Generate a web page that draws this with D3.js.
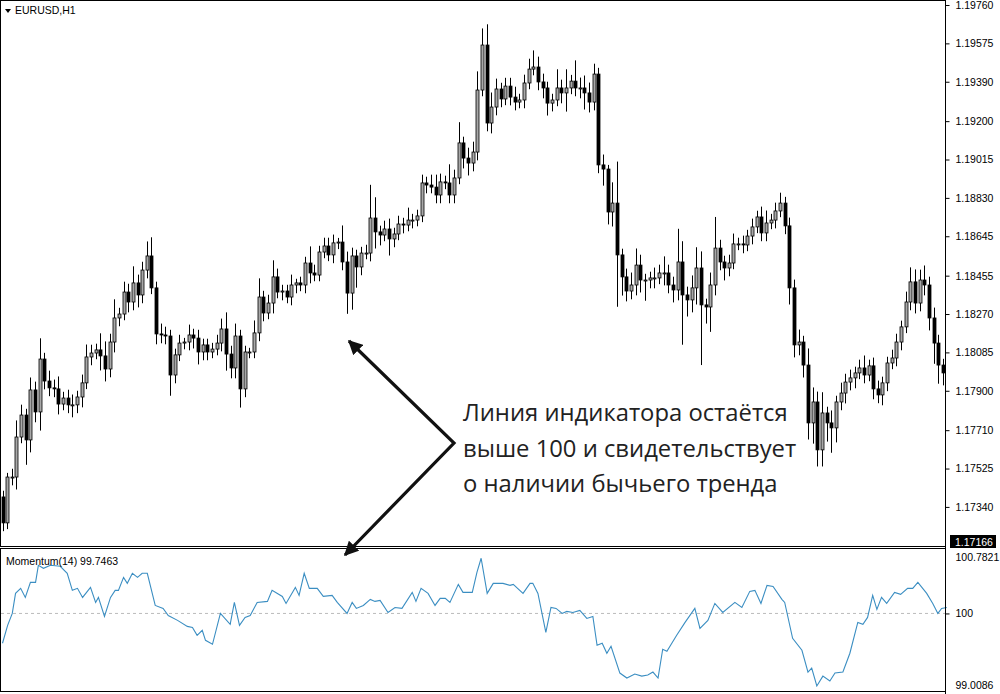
<!DOCTYPE html>
<html><head><meta charset="utf-8">
<script src="https://cdn.jsdelivr.net/npm/d3@7/dist/d3.min.js"></script>
<style>html,body{margin:0;padding:0;background:#fff;}svg{display:block;}</style>
</head><body>
<svg id="c" width="1000" height="694"></svg>
<script>
const firstOpen = 1.17388;
const closes = [
1.17263,1.17484,1.17484,1.17677,1.17783,1.17663,1.17904,1.17798,1.18053,1.17947,
1.17914,1.17909,1.17836,1.17865,1.17832,1.17832,1.17870,1.17938,1.18063,1.18082,
1.18097,1.18068,1.18005,1.18135,1.18251,1.18270,1.18376,1.18328,1.18420,1.18362,
1.18482,1.18550,1.18396,1.18174,1.18169,1.18164,1.17976,1.18073,1.18130,1.18135,
1.18169,1.18154,1.18087,1.18121,1.18087,1.18101,1.18130,1.18198,1.18077,1.18010,
1.18164,1.17909,1.18087,1.18087,1.18179,1.18352,1.18275,1.18323,1.18449,1.18376,
1.18381,1.18352,1.18410,1.18420,1.18410,1.18516,1.18468,1.18458,1.18569,1.18598,
1.18555,1.18613,1.18617,1.18521,1.18371,1.18550,1.18497,1.18564,1.18564,1.18733,
1.18666,1.18651,1.18680,1.18632,1.18656,1.18704,1.18699,1.18723,1.18723,1.18743,
1.18902,1.18892,1.18882,1.18844,1.18907,1.18902,1.18844,1.18926,1.19095,1.19022,
1.18998,1.19051,1.19350,1.19567,1.19191,1.19268,1.19355,1.19307,1.19369,1.19316,
1.19292,1.19302,1.19384,1.19451,1.19461,1.19389,1.19360,1.19287,1.19302,1.19360,
1.19336,1.19360,1.19393,1.19360,1.19360,1.19336,1.19292,1.19427,1.18989,1.18969,
1.18762,1.18805,1.18555,1.18449,1.18381,1.18410,1.18506,1.18434,1.18434,1.18444,
1.18444,1.18468,1.18468,1.18410,1.18386,1.18521,1.18362,1.18338,1.18396,1.18492,
1.18314,1.18304,1.18410,1.18588,1.18521,1.18492,1.18516,1.18608,1.18608,1.18603,
1.18646,1.18690,1.18738,1.18661,1.18709,1.18723,1.18767,1.18805,1.18695,1.18396,
1.18121,1.18135,1.18024,1.17745,1.17846,1.17615,1.17793,1.17745,1.17721,1.17846,
1.17889,1.17942,1.17962,1.17986,1.18010,1.17976,1.18020,1.17909,1.17880,1.17938,
1.18034,1.18058,1.18135,1.18208,1.18328,1.18425,1.18323,1.18434,1.18410,1.18251,
1.18130,1.18024,1.17986];
// wick lengths beyond the body, in pips
const wickUp = [
3,2,4,8,5,3,6,4,10,3, 5,4,6,3,4,5,3,4,6,4, 3,8,7,4,9,3,5,4,8,4, 4,7,9,3,5,4,3,3,4,2,
5,3,4,3,3,3,4,5,8,4, 6,3,3,2,6,9,3,4,8,4, 3,3,5,2,3,3,8,4,3,4, 4,4,2,8,5,4,3,3,4,16,
10,3,4,5,3,4,3,6,3,3, 4,3,5,6,4,3,9,4,10,3, 5,5,9,8,10,7,5,3,4,4, 5,3,4,5,8,5,4,3,3,9,
4,9,3,10,5,6,5,5,3,5, 2,10,20,3,4,6,8,5,3,3, 5,4,8,4,4,16,10,4,6,10, 8,3,6,15,4,3,4,5,3,4,
3,4,3,5,6,3,4,5,3,4, 4,6,3,8,7,5,10,3,6,3, 5,4,4,3,4,6,3,4,4,3, 3,4,4,3,5,7,6,5,7,4, 5,4,3];
const wickDn = [
4,3,4,6,3,12,6,5,9,4, 4,4,5,3,4,6,4,5,3,4, 3,7,6,4,5,4,3,5,4,6, 4,4,3,5,4,4,10,4,3,3,
4,5,6,4,4,3,3,4,8,5, 5,9,4,3,3,4,4,3,5,3, 4,3,4,4,3,4,5,3,3,3, 3,4,3,4,10,8,10,4,3,4,
8,5,3,8,4,3,4,3,4,3, 3,4,3,4,4,3,4,4,3,5, 6,4,4,3,4,5,4,4,3,4, 4,3,4,3,3,4,5,6,4,3,
5,9,3,4,5,8,5,4,4,8, 6,7,25,9,5,4,5,6,10,4, 5,3,6,4,6,5,24,8,6,8, 29,8,12,5,4,6,4,3,3,4,
3,4,3,4,4,3,4,3,4,8, 6,5,6,8,10,8,8,9,12,7, 4,5,4,5,3,4,3,5,4,5, 4,3,4,4,3,4,5,4,5,6, 10,9,6];
const priceTicks = [1.19760,1.19575,1.19390,1.19200,1.19015,1.18830,1.18645,1.18455,1.18270,1.18085,1.17900,1.17710,1.17525,1.17340];
const priceMin = 1.17166, priceMax = 1.19760;
// Momentum(14): bar position and value
const momBar = [0,1.1,2.1,2.8,3.9,4.9,6.0,7.1,7.7,8.8,10.3,12.4,13.9,15.0,16.1,17.2,18.9,20.0,20.6,21.9,23.2,24.2,24.9,26.0,26.8,27.9,29.0,30.0,31.1,32.8,34.5,35.6,37.6,39.7,40.8,41.8,42.9,43.6,45.1,46.8,48.9,49.8,50.9,52.1,53.2,54.7,56.9,57.9,60.1,60.9,62.9,63.7,64.8,65.9,67.6,68.9,70.8,71.9,74.0,75.1,76.0,77.5,79.0,80.0,81.1,82.8,84.3,85.8,88.0,88.8,89.9,91.4,92.9,94.0,95.1,96.1,97.9,98.9,100.9,101.9,102.8,104.1,105.4,107.5,109.0,109.7,111.8,113.3,113.9,115.0,116.7,117.8,118.9,120.2,121.2,122.5,124.0,125.5,126.8,127.7,128.8,129.8,130.7,132.6,134.1,135.8,137.3,138.6,139.7,140.8,141.8,142.7,144.8,146.6,148.7,149.8,151.5,153.0,154.7,157.3,158.8,160.5,161.6,162.9,164.2,165.5,167.4,168.0,169.7,171.7,173.0,173.8,174.9,176.2,177.7,178.8,180.5,182.0,183.7,184.8,185.8,186.9,187.8,188.8,189.9,191.6,192.9,194.4,195.5,196.6,198.5,199.8,200.9,201.7,202.8];
const momVal = [99.587,99.835,100.000,100.278,100.348,100.222,100.431,100.431,100.667,100.626,100.667,100.653,100.556,100.320,100.348,100.222,100.361,100.153,100.222,99.959,100.222,100.320,100.320,100.500,100.417,100.556,100.500,100.556,100.556,100.111,100.070,99.972,99.904,99.821,99.807,99.697,99.766,99.628,99.573,100.000,99.849,100.153,99.835,99.945,99.972,100.153,100.167,100.320,100.236,100.139,100.361,100.250,100.556,100.348,100.348,100.236,100.250,100.153,100.000,100.153,100.070,100.111,100.195,100.167,100.181,100.014,100.083,100.070,100.292,100.167,100.348,100.278,100.111,100.209,100.209,100.153,100.403,100.292,100.292,100.570,100.765,100.278,100.417,100.417,100.389,100.403,100.278,100.417,100.417,100.278,99.738,100.083,100.070,100.000,100.028,100.014,100.042,99.931,99.959,99.559,99.587,99.449,99.546,99.174,99.105,99.160,99.132,99.146,99.188,99.105,99.504,99.477,99.697,99.876,100.070,99.793,99.904,100.139,100.014,100.153,100.083,100.306,100.320,100.139,100.389,100.375,100.195,100.153,99.656,99.490,99.188,99.243,98.995,99.132,99.064,99.174,99.188,99.449,99.876,99.849,99.945,100.250,100.056,100.222,100.139,100.292,100.264,100.348,100.348,100.431,100.278,100.139,100.000,100.070,100.083];
const momTicks = [100.7821, 100, 99.0086];
const momMin = 99.0086, momMax = 100.7821;
const symbolLabel = "EURUSD,H1";
const momLabel = "Momentum(14) 99.7463";
const noteLines = ["Линия индикатора остаётся","выше 100 и свидетельствует","о наличии бычьего тренда"];

const svg = d3.select("#c");
const pip = 0.0001;
const x = d3.scaleLinear().domain([0, closes.length-1]).range([2.5, 943]);
const y = d3.scaleLinear().domain([priceMin, priceMax]).range([543, 5]);
const ym = d3.scaleLinear().domain([momMin, momMax]).range([685, 557]);
const font = "'Liberation Sans', Arial, sans-serif";

const bars = closes.map((c,i)=>{
  const o = i===0 ? firstOpen : closes[i-1];
  return {i, o, c, h: Math.max(o,c)+wickUp[i]*pip, l: Math.min(o,c)-wickDn[i]*pip};
});

const g = svg.append("g");
g.selectAll("line.w").data(bars).join("line")
  .attr("x1",d=>Math.round(x(d.i))+0.5).attr("x2",d=>Math.round(x(d.i))+0.5)
  .attr("y1",d=>y(d.h)).attr("y2",d=>y(d.l)).attr("stroke","#000").attr("stroke-width",1);
g.selectAll("rect.b").data(bars).join("rect")
  .attr("x",d=>Math.round(x(d.i))-1).attr("width",3)
  .attr("y",d=>y(Math.max(d.o,d.c))).attr("height",d=>Math.max(1,Math.abs(y(d.o)-y(d.c))))
  .attr("fill",d=>d.c>=d.o?"#a8a8a8":"#000").attr("stroke","#000").attr("stroke-width",0.8);

// frames
svg.append("rect").attr("x",0.5).attr("y",0.5).attr("width",945).attr("height",546).attr("fill","none").attr("stroke","#000");
svg.append("rect").attr("x",0.5).attr("y",548.5).attr("width",945).attr("height",143).attr("fill","none").attr("stroke","#000");

// price axis
const pa = svg.append("g").attr("transform","translate(945.5,0)")
  .call(d3.axisRight(y).tickValues(priceTicks).tickFormat(d3.format(".5f")).tickSize(4).tickPadding(6));
pa.select(".domain").remove();
pa.selectAll("text").attr("font-family",font).attr("font-size",10.5).attr("fill","#000");
pa.selectAll("line").attr("stroke","#000");
svg.append("rect").attr("x",950).attr("y",y(priceMin)-8).attr("width",46).attr("height",13).attr("fill","#000");
svg.append("text").attr("x",955).attr("y",y(priceMin)+3).attr("font-family",font).attr("font-size",10.5).attr("fill","#fff").text(d3.format(".5f")(priceMin));

// momentum
svg.append("line").attr("x1",1).attr("x2",945).attr("y1",ym(100)).attr("y2",ym(100))
  .attr("stroke","#bbb").attr("stroke-dasharray","3,3");
svg.append("path").datum(momBar.map((b,i)=>[b,momVal[i]]))
  .attr("d",d3.line().x(d=>x(d[0])).y(d=>ym(d[1])))
  .attr("fill","none").attr("stroke","#3b8ec2").attr("stroke-width",1.1);
const ma = svg.append("g").attr("transform","translate(945.5,0)")
  .call(d3.axisRight(ym).tickValues(momTicks).tickFormat(d=>String(d)).tickSize(4).tickPadding(6));
ma.select(".domain").remove();
ma.selectAll("text").attr("font-family",font).attr("font-size",10.5).attr("fill","#000");
ma.selectAll("line").attr("stroke","#000");
ma.selectAll(".tick").filter(d=>d!==100).select("line").remove();
svg.append("line").attr("x1",945.5).attr("x2",945.5).attr("y1",0).attr("y2",694).attr("stroke","#000");

// labels
svg.append("path").attr("d","M5,9 L11,9 L8,13 Z").attr("fill","#000");
svg.append("text").attr("x",15).attr("y",14).attr("font-family",font).attr("font-size",10.5).text(symbolLabel);
svg.append("text").attr("x",6).attr("y",565).attr("font-family",font).attr("font-size",10.5).text(momLabel);

// annotation
const nt = svg.append("g").attr("font-family","'Open Sans', sans-serif").attr("font-size",23.8).attr("fill","#222");
noteLines.forEach((t,i)=>nt.append("text").attr("x",463).attr("y",421+i*35.5).text(t));
const defs = svg.append("defs");
defs.append("marker").attr("id","ah").attr("viewBox","0 0 10 10").attr("refX",9).attr("refY",5)
  .attr("markerWidth",4.5).attr("markerHeight",4.5).attr("orient","auto-start-reverse")
  .append("path").attr("d","M0,0 L10,5 L0,10 Z").attr("fill","#111");
svg.append("path").attr("d","M349,341 L454,443 L345,555")
  .attr("fill","none").attr("stroke","#111").attr("stroke-width",3.2)
  .attr("marker-start","url(#ah)").attr("marker-end","url(#ah)");
</script>
</body></html>
